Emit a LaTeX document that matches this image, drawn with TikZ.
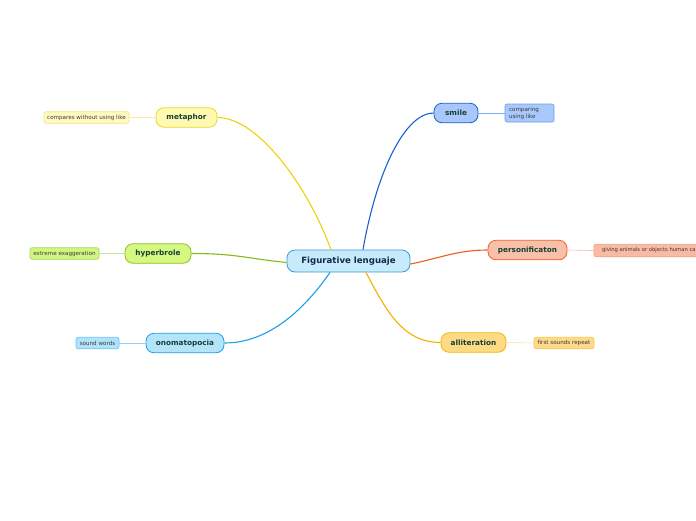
\documentclass[tikz,border=0pt]{standalone}
\usepackage{fontspec}
\setmainfont{DejaVu Sans}
\definecolor{ctxt}{HTML}{102B4A}
\definecolor{mtxt}{HTML}{173F36}
\definecolor{stxt}{HTML}{3A3A3A}
% central
\definecolor{cfill}{HTML}{C8EBFB}\definecolor{cdraw}{HTML}{3A9AD9}
% yellow
\definecolor{yfill}{HTML}{FFFAB0}\definecolor{ydraw}{HTML}{E8D830}\definecolor{yline}{HTML}{EDD20C}
\definecolor{ysfill}{HTML}{FFF9C2}\definecolor{ysdraw}{HTML}{F3E67A}\definecolor{ysline}{HTML}{F7EDA0}
% blue (smile)
\definecolor{bfill}{HTML}{A8C8FC}\definecolor{bdraw}{HTML}{1A5FD0}\definecolor{bline}{HTML}{1A5FD0}
\definecolor{bsfill}{HTML}{A9C9FC}\definecolor{bsdraw}{HTML}{6A9EE8}\definecolor{bsline}{HTML}{7FAEEE}
% red
\definecolor{rfill}{HTML}{F8C0A8}\definecolor{rdraw}{HTML}{F0602A}\definecolor{rline}{HTML}{F05A20}
\definecolor{rsfill}{HTML}{F8BAA2}\definecolor{rsdraw}{HTML}{F2A284}\definecolor{rsline}{HTML}{F6B8A0}
% green
\definecolor{gfill}{HTML}{D4F880}\definecolor{gdraw}{HTML}{8CBF26}\definecolor{gline}{HTML}{86B817}
\definecolor{gsfill}{HTML}{D2F682}\definecolor{gsdraw}{HTML}{A8D850}\definecolor{gsline}{HTML}{C8E890}
% light blue
\definecolor{lfill}{HTML}{B4E4FA}\definecolor{ldraw}{HTML}{1EA0E6}\definecolor{lline}{HTML}{1EA0E6}
\definecolor{lsfill}{HTML}{B0E2FA}\definecolor{lsdraw}{HTML}{70C4F0}\definecolor{lsline}{HTML}{90D0F4}
% orange
\definecolor{ofill}{HTML}{FDDB85}\definecolor{odraw}{HTML}{F5B40A}\definecolor{oline}{HTML}{F5B000}
\definecolor{osfill}{HTML}{FDD98A}\definecolor{osdraw}{HTML}{F8C850}\definecolor{osline}{HTML}{FAE0A0}
\tikzset{
  central/.style={draw=cdraw, fill=cfill, line width=0.8pt, rounded corners=8pt,
    minimum width=123pt, minimum height=22pt, inner sep=0pt,
    font=\fontsize{8.6}{10}\selectfont\bfseries, text=ctxt},
  mainnode/.style={line width=0.8pt, rounded corners=8pt, minimum height=19.5pt, inner sep=0pt,
    font=\fontsize{7.3}{9}\selectfont\bfseries, text=mtxt},
  subnode/.style={line width=0.6pt, rounded corners=2pt, inner sep=0pt,
    font=\fontsize{5.6}{7}\selectfont, text=stxt},
  branch/.style={line width=1.1pt},
  subline/.style={line width=0.6pt}
}
\begin{document}
\begin{tikzpicture}[x=1pt,y=-1pt]
\useasboundingbox (0,0) rectangle (696,520);
\clip (0,0) rectangle (696,520);
\fill[white] (0,0) rectangle (696,520);

% main nodes
\node[central] (c) at (348.5,261) {Figurative lenguaje};
\node[mainnode, draw=ydraw, fill=yfill, minimum width=61pt] (met) at (186.5,117.5) {metaphor};
\node[mainnode, draw=bdraw, fill=bfill, minimum width=44pt] (smi) at (456,113) {smile};
\node[mainnode, draw=rdraw, fill=rfill, minimum width=79pt] (per) at (527.5,250) {personificaton};
\node[mainnode, draw=gdraw, fill=gfill, minimum width=66pt] (hyp) at (158,253.5) {hyperbrole};
\node[mainnode, draw=ldraw, fill=lfill, minimum width=78pt] (ono) at (185,343) {onomatopocia};
\node[mainnode, draw=odraw, fill=ofill, minimum width=65pt] (all) at (473.5,342.5) {alliteration};

% sub nodes
\node[subnode, draw=ysdraw, fill=ysfill, minimum width=85pt, minimum height=11.5pt] (met1) at (86.5,117.5) {compares without using like};
\node[subnode, draw=bsdraw, fill=bsfill, minimum width=49pt, minimum height=18pt, align=left, text width=41pt] (smi1) at (529.5,113) {comparing\\using like};
\node[subnode, draw=rsdraw, fill=rsfill, minimum width=110pt, minimum height=12.5pt, anchor=west, inner xsep=4pt, font=\fontsize{5.25}{7}\selectfont] (per1) at (593.5,250.5) {giving animals or objects human ca\hspace{20pt}};
\node[subnode, draw=gsdraw, fill=gsfill, minimum width=69pt, minimum height=11.5pt] (hyp1) at (64.5,253.5) {extreme exaggeration};
\node[subnode, draw=lsdraw, fill=lsfill, minimum width=43pt, minimum height=11.5pt] (ono1) at (97.5,343) {sound words};
\node[subnode, draw=osdraw, fill=osfill, minimum width=60pt, minimum height=11.5pt] (all1) at (564,343) {first sounds repeat};

% branches
\draw[branch, yline] (met.east) .. controls +(40,0) and +(-24,-65) .. ([xshift=-17.5pt]c.north);
\draw[branch, bline] ([xshift=14.5pt]c.north) .. controls +(14,-80) and +(-28,0) .. (smi.west);
\draw[branch, rline] ([yshift=-3pt]c.east) .. controls +(30,-6) and +(-30,0) .. (per.west);
\draw[branch, gline] (hyp.east) .. controls +(45,0) and +(-40,-4) .. ([yshift=-1.5pt]c.west);
\draw[branch, lline] ([xshift=-18.5pt]c.south) .. controls +(-25,36) and +(45,0) .. (ono.east);
\draw[branch, oline] ([xshift=17.5pt]c.south) .. controls +(20,38) and +(-38,0) .. (all.west);

% sub lines
\draw[subline, ysline] (met.west) -- (met1.east);
\draw[subline, bsline] (smi.east) -- (smi1.west);
\draw[subline, rsline] (per.east) -- (per1.west);
\draw[subline, gsline] (hyp.west) -- (hyp1.east);
\draw[subline, lsline] (ono.west) -- (ono1.east);
\draw[subline, osline] (all.east) -- (all1.west);
\end{tikzpicture}
\end{document}
